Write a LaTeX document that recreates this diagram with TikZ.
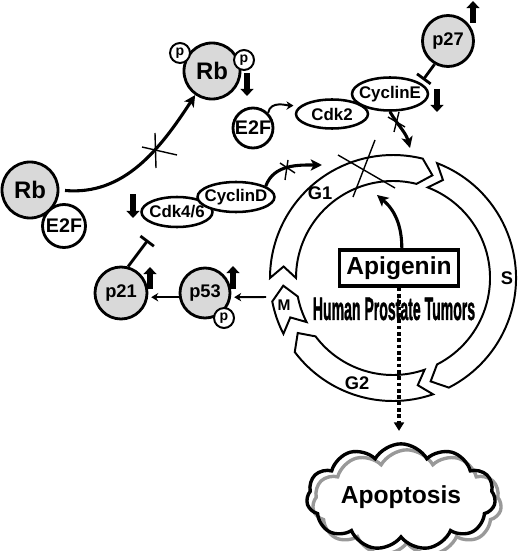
\documentclass[tikz,border=0pt]{standalone}
\usepackage{fontspec}
\setmainfont{Liberation Sans}
\newfontfamily\heavyfont[FakeBold=1.6]{Liberation Sans}
\usetikzlibrary{shapes.geometric,shapes.symbols,arrows.meta}
\definecolor{protgray}{gray}{0.85}
\definecolor{shadowgray}{gray}{0.6}

% one phase of the cell cycle ring: tail angle, head angle (clockwise on screen)
\newcommand{\cyclephase}[2]{%
  \draw[phase] (#1:123) arc[start angle=#1, end angle=#2, radius=123]
    -- ({#2+7}:110) -- (#2:97) arc[start angle=#2, end angle=#1, radius=97]
    -- ({#1+6}:110) -- cycle;}

\tikzset{
  diam/.style={minimum size=#1*0.025cm},
  ellsize/.style 2 args={minimum width=#1*0.025cm, minimum height=#2*0.025cm},
  prot/.style={circle, draw, line width=2pt, fill=protgray, inner sep=0pt, font=\bfseries\fontsize{13}{13}\selectfont},
  free/.style={circle, draw, line width=2pt, fill=white, inner sep=0pt, font=\bfseries\fontsize{14}{14}\selectfont},
  phos/.style={circle, draw, line width=1.4pt, fill=white, inner sep=0pt, diam=20, font=\bfseries\fontsize{10}{10}\selectfont},
  cplx/.style={ellipse, draw, line width=1.8pt, fill=white, inner xsep=-4pt, inner ysep=0pt, font=\bfseries\fontsize{12}{12}\selectfont},
  phase/.style={draw, line width=1.4pt, fill=white, line join=miter},
  phaselabel/.style={font=\bfseries\fontsize{13}{13}\selectfont},
  act/.style={-{Stealth[length=5pt,width=6pt]}, line width=1.4pt},
  bigact/.style={-{Stealth[length=8pt,width=8pt,inset=2pt]}, line width=2.2pt},
  inhib/.style={-{Bar[width=12pt,line width=2pt]}, line width=2pt},
  xmark/.style={line width=1pt},
  updown/.style={-{Triangle[width=9pt,length=5pt]}, line width=4.5pt},
  dots/.style={-{Triangle[length=6pt,width=7pt]}, line width=3pt, dash pattern=on 2.5pt off 2pt},
  puff/.style={cloud, cloud puffs=11, cloud puff arc=120, aspect=2.3, line width=2.4pt, ellsize={180}{78}, font=\bfseries\fontsize{17.5}{17.5}\selectfont}
}

\begin{document}
\begin{tikzpicture}[x=0.025cm, y=-0.025cm]
\useasboundingbox (0,0) rectangle (520,551);

% cell cycle
\begin{scope}[shift={(393,278)}]
  \cyclephase{180}{284} % G1
  \cyclephase{291}{423} % S
  \cyclephase{71}{143}  % G2
  \cyclephase{153}{169} % M
\end{scope}
\node[phaselabel] (g1lab) at (320,193) {G1};
\node[phaselabel] (slab) at (507,278) {S};
\node[phaselabel] (g2lab) at (357,383) {G2};
\node[phaselabel, font=\bfseries\fontsize{11}{11}\selectfont] (mlab) at (284,305) {M};
\draw[xmark] (338,155) -- (395,188) (375,140) -- (353,197);

\node[draw, line width=2.5pt, ellsize={119}{36}, inner sep=0pt, font=\bfseries\fontsize{17.5}{17.5}\selectfont] (apig) at (399,268) {Apigenin};
\node[font=\heavyfont\bfseries\fontsize{20}{20}\selectfont] (hpt) at (394,309) {\scalebox{0.5}[1.15]{Human Prostate Tumors}};

% apoptosis
\node[puff, draw=shadowgray] (apopsh) at (407,503) {\phantom{Apoptosis}};
\node[puff, draw] (apop) at (401,497) {Apoptosis};

% proteins
\node[prot, diam=56, font=\bfseries\fontsize{17}{17}\selectfont] (rbl) at (30,190) {Rb};
\node[free, diam=43] (e2fl) at (64,226) {E2F};
\node[prot, diam=56, font=\bfseries\fontsize{17}{17}\selectfont] (rbp) at (212,71) {Rb};
\node[phos] (rbpa) at (180,53) {p};
\node[phos] (rbpb) at (244,60) {p};
\node[free, diam=40] (e2f) at (253,128) {E2F};
\node[cplx, ellsize={72}{29}] (cdk2) at (332,114) {Cdk2};
\node[cplx, ellsize={76}{33}] (cyce) at (390,94) {CyclinE};
\node[prot, diam=51] (p27) at (448,41) {p27};
\node[cplx, ellsize={71}{30}] (cdk46) at (177,212) {Cdk4/6};
\node[cplx, ellsize={77}{30}] (cycd) at (236,197) {CyclinD};
\node[prot, diam=52] (p21) at (121,293) {p21};
\node[prot, diam=50] (p53) at (205,293) {p53};
\node[phos] (p53p) at (224,318) {p};

% free ends
\coordinate (cycebar) at (423,80);
\coordinate (cdkbar) at (148,240);
\coordinate (g1top) at (410,148);
\coordinate (g1left) at (322,165);
\coordinate (g1in) at (377,195);
\coordinate (mout) at (266,297);

% connectors
\draw[bigact, shorten <=4pt] (rbl.east) to[out=-5, in=237] (rbp.235);
\draw[xmark] (142,147) -- (177,155) (155,133) -- (156,168);
\draw[act, shorten >=5pt] (e2f.north east) to[out=80, in=180] (cdk2.165);
\draw[inhib] (p27.240) -- (cycebar);
\draw[bigact] (cyce.south) to[out=-60, in=105] (g1top);
\draw[xmark] (388,117) -- (405,127) (399,112) -- (394,132);
\draw[bigact] (cycd.20) to[out=70, in=180] (g1left);
\draw[xmark] (280,163) -- (295,173) (288,160) -- (285,180);
\draw[inhib] (p21.75) -- (cdkbar);
\draw[act, shorten >=2pt] ([yshift=-3pt]p53.west) -- ([yshift=-3pt]p21.east);
\draw[act, shorten >=2pt] (mout) -- ([yshift=-3pt]p53.east);
\draw[bigact] ([xshift=2pt]apig.north) to[out=90, in=-40] (g1in);
\draw[dots, shorten >=8pt] (apig.south) -- (apig.south |- apop.north);

% up / down indicators
\draw[updown] (247,73) -- (247,96);
\draw[updown] (437,89) -- (437,112);
\draw[updown] (133,194) -- (133,218);
\draw[updown] (473,23) -- (473,1);
\draw[updown] (150,289) -- (150,267);
\draw[updown] (233,289) -- (233,266);
\end{tikzpicture}
\end{document}
